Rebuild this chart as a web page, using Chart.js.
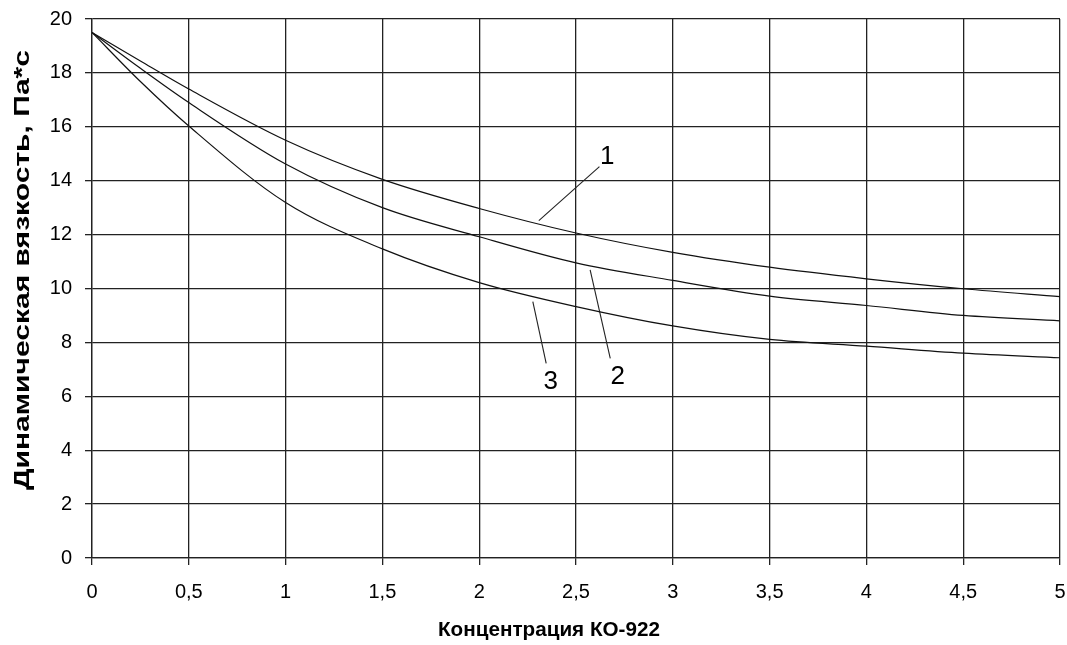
<!DOCTYPE html>
<html>
<head>
<meta charset="utf-8">
<script src="https://cdn.jsdelivr.net/npm/chart.js@4/dist/chart.umd.min.js"></script>
<style>
    html, body { margin: 0; padding: 0; background: #fff; }
    #wrap { width: 1067px; height: 645px; }
</style>
</head>
<body>
<div id="wrap"><canvas id="viscChart" width="1067" height="645"></canvas></div>
<script>
// concentration of KO-922
const conc = [0, 0.25, 0.5, 1, 1.5, 2, 2.5, 3, 3.5, 4, 4.5, 5];

// dynamic viscosity, curves 1..3
const curve1 = [19.5, 18.44, 17.4, 15.5, 14.05, 12.97, 12.06, 11.34, 10.79, 10.36, 9.99, 9.7];
const curve2 = [19.5, 18.17, 16.9, 14.62, 13.0, 11.92, 10.95, 10.3, 9.72, 9.37, 9.0, 8.8];
const curve3 = [19.5, 17.68, 16.03, 13.19, 11.47, 10.22, 9.33, 8.61, 8.11, 7.86, 7.6, 7.43];

// callout labels and their leader lines (data units)
const calloutText = ['1', '2', '3'];
const calloutX = [2.661, 2.716, 2.37];
const calloutY = [14.88, 6.73, 6.54];
const leaderX = [[2.308, 2.621], [2.573, 2.677], [2.277, 2.346]];
const leaderY = [[12.52, 14.52], [10.69, 7.41], [9.51, 7.22]];

const xTitle = 'Концентрация КО-922';
const yTitle = 'Динамическая вязкость, Па*с';

const toPoints = (xs, ys) => xs.map((x, i) => ({ x: x, y: ys[i] }));

const curveStyle = {
    borderColor: '#111',
    borderWidth: 1.2,
    pointRadius: 0,
    fill: false,
    cubicInterpolationMode: 'monotone'
};

const datasets = [
    Object.assign({ label: '1', data: toPoints(conc, curve1) }, curveStyle),
    Object.assign({ label: '2', data: toPoints(conc, curve2) }, curveStyle),
    Object.assign({ label: '3', data: toPoints(conc, curve3) }, curveStyle)
];

leaderX.forEach((xs, i) => {
    datasets.push({
        label: 'leader' + (i + 1),
        data: toPoints(xs, leaderY[i]),
        borderColor: '#222',
        borderWidth: 1.1,
        pointRadius: 0,
        fill: false,
        tension: 0
    });
});

// callout numbers and axis titles
const textPlugin = {
    id: 'texts',
    afterDraw(chart) {
        const c = chart.ctx;
        const sx = chart.scales.x;
        const sy = chart.scales.y;
        c.save();
        c.fillStyle = '#000';
        c.textAlign = 'center';
        c.textBaseline = 'middle';
        c.font = '26px "Liberation Sans", Arial, sans-serif';
        calloutText.forEach((t, i) => {
            c.fillText(t, sx.getPixelForValue(calloutX[i]), sy.getPixelForValue(calloutY[i]));
        });

        // x axis title
        c.font = 'bold 21px "Liberation Sans", Arial, sans-serif';
        let w = c.measureText(xTitle).width;
        c.save();
        c.translate(549, 630);
        c.scale(222 / w, 1);
        c.fillText(xTitle, 0, 0);
        c.restore();

        // y axis title
        c.font = 'bold 22px "Liberation Sans", Arial, sans-serif';
        w = c.measureText(yTitle).width;
        c.save();
        c.translate(23, 270);
        c.rotate(-Math.PI / 2);
        c.scale(440 / w, 1);
        c.fillText(yTitle, 0, 0);
        c.restore();
        c.restore();
    }
};

const ctx = document.getElementById('viscChart').getContext('2d');

new Chart(ctx, {
    type: 'line',
    data: { datasets: datasets },
    options: {
        responsive: false,
        animation: false,
        layout: { padding: { top: 19, right: 7, left: 0, bottom: 0 } },
        plugins: {
            legend: { display: false },
            tooltip: { enabled: false }
        },
        scales: {
            x: {
                type: 'linear',
                min: 0,
                max: 5,
                afterFit(scale) {
                    scale.height = 87;
                    scale.paddingLeft = 0;
                    scale.paddingRight = 0;
                },
                grid: { color: '#222', lineWidth: 1.3, tickLength: 7, tickColor: '#222' },
                border: { color: '#222', width: 1.3 },
                ticks: {
                    stepSize: 0.5,
                    padding: 15,
                    color: '#000',
                    font: { family: '"Liberation Sans", Arial, sans-serif', size: 20 },
                    callback: v => String(v).replace('.', ',')
                }
            },
            y: {
                min: 0,
                max: 20,
                afterFit(scale) {
                    scale.width = 92;
                    scale.paddingTop = 0;
                    scale.paddingBottom = 0;
                },
                grid: { color: '#222', lineWidth: 1.3, tickLength: 7, tickColor: '#222' },
                border: { color: '#222', width: 1.3 },
                ticks: {
                    stepSize: 2,
                    padding: 13,
                    color: '#000',
                    font: { family: '"Liberation Sans", Arial, sans-serif', size: 20 }
                }
            }
        }
    },
    plugins: [textPlugin]
});
</script>
</body>
</html>
